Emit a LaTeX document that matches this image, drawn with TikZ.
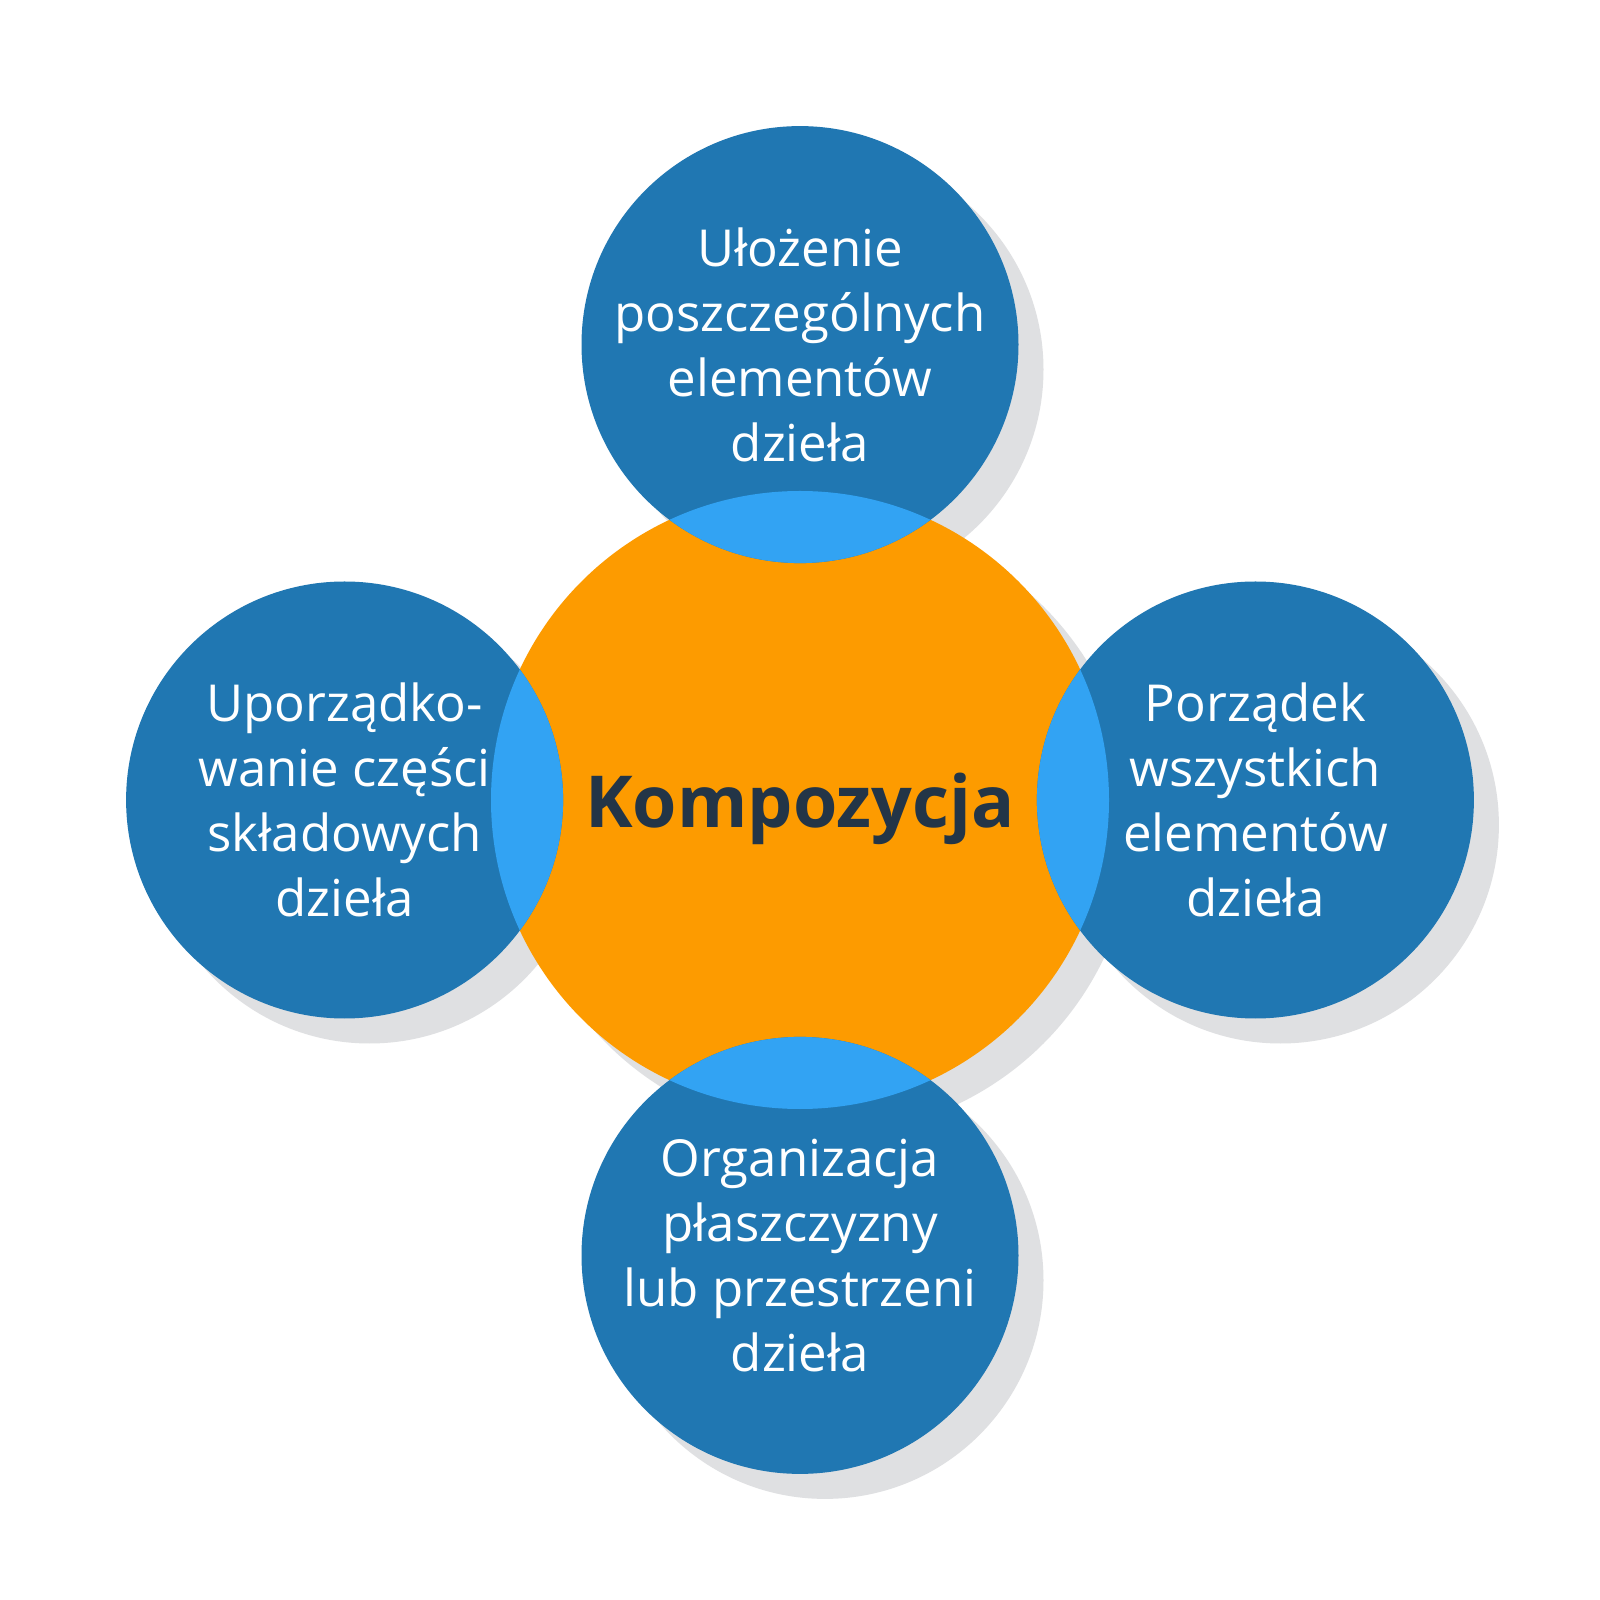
\documentclass[tikz,border=0pt]{standalone}
\usepackage{fontspec}
\setmainfont{Open Sans}
\usetikzlibrary{positioning}
\definecolor{partblue}{HTML}{2077B2}
\definecolor{meetblue}{HTML}{32A3F3}
\definecolor{wholeorange}{HTML}{FD9B00}
\definecolor{shadegray}{HTML}{DFE0E2}
\definecolor{titledark}{HTML}{233547}
\pgfdeclarelayer{shade}
\pgfsetlayers{shade,main}
\tikzset{
	composition/.style={node distance=-0.735cm},
	whole/.style={circle,fill=wholeorange,minimum size=6.18cm,inner sep=0pt,
		text=titledark,text depth=0pt,font=\fontsize{20.4}{24}\selectfont\bfseries},
	part/.style={circle,fill=partblue,minimum size=4.37cm,inner sep=0pt},
	partshade/.style={fill=shadegray},
	parttext/.style={align=center,text=white,inner sep=0pt,
		font=\fontsize{14.5}{18.5}\selectfont}
}

\begin{document}
\begin{tikzpicture}[composition]

	\node[whole] (komp) {Kompozycja};
	\node[part] (top) [above= of komp] {};
	\node[part] (left) [left= of komp] {};
	\node[part] (right) [right= of komp] {};
	\node[part] (bottom) [below= of komp] {};

	\begin{pgfonlayer}{shade}
		\path[fill=white,use as bounding box] (-8,-8) rectangle (8,8);
		\fill[partshade] ([shift={(0.25,-0.25)}]komp.center) circle (3.09);
		\foreach \n in {top,left,right,bottom}
			\fill[partshade] ([shift={(0.25,-0.25)}]\n.center) circle (2.185);
	\end{pgfonlayer}

	\begin{scope}
		\clip (komp.center) circle (3.09);
		\foreach \n in {top,left,right,bottom}
			\fill[meetblue] (\n.center) circle (2.185);
	\end{scope}

	\node[parttext] (toptext) at (top) {Ułożenie\\poszczególnych\\elementów\\dzieła};
	\node[parttext] (lefttext) at (left) {Uporządko-\\wanie części\\składowych\\dzieła};
	\node[parttext] (righttext) at (right) {Porządek\\wszystkich\\elementów\\dzieła};
	\node[parttext] (bottomtext) at (bottom) {Organizacja\\płaszczyzny\\lub przestrzeni\\dzieła};
\end{tikzpicture}
\end{document}
